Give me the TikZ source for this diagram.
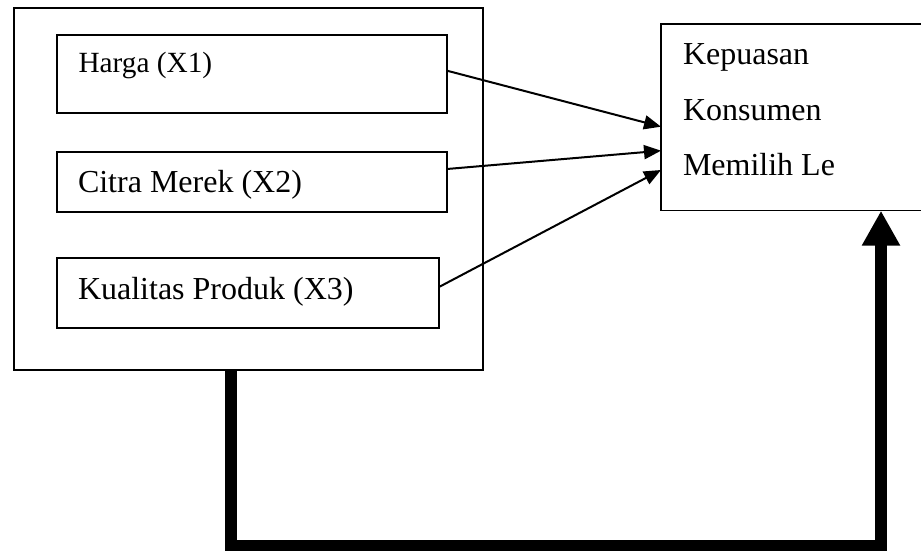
\documentclass[tikz,border=0pt]{standalone}
\usepackage{fontspec}
\setmainfont{Liberation Serif}
\usetikzlibrary{arrows.meta}

\begin{document}
\begin{tikzpicture}[
  x=1pt,
  y=-1pt,
  every node/.style={inner sep=0pt, outer sep=0pt},
  box/.style={draw, line width=1.3pt, anchor=north west},
  label/.style={font=\fontsize{32}{38}\selectfont, anchor=base west},
  small label/.style={font=\fontsize{29.3}{35}\selectfont, anchor=base west},
  link/.style={line width=2pt, -{Triangle[length=17pt, width=14pt]}},
  feedback/.style={line width=11.7pt, line join=miter,
    -{Triangle[length=35pt, width=36pt]}}
]
  \useasboundingbox (0,0) rectangle (921,551);
  \clip (0,0) rectangle (921,551);

  % ---- the group of the three factors ---------------------------------
  \node[box, minimum width=469pt, minimum height=362pt] (outer) at (14,8) {};
  \node[box, minimum width=390pt, minimum height=78pt] (harga) at (57,35) {};
  \node[box, minimum width=390pt, minimum height=60pt] (citra) at (57,152) {};
  \node[box, minimum width=382pt, minimum height=70pt] (kualitas) at (57,258) {};
  \node[small label] (hargatext) at (78.5,73) {Harga (X1)};
  \node[label] (citratext) at (78,192.3) {Citra Merek (X2)};
  \node[label] (kualitastext) at (78,299) {Kualitas Produk (X3)};

  % ---- the outcome, running past the right edge -----------------------
  \node[box, minimum width=300pt, minimum height=186.7pt] (kepuasan) at (661,24) {};
  \node[label] (kep1) at (683,65) {Kepuasan};
  \node[label] (kep2) at (683,120) {Konsumen};
  \node[label] (kep3) at (683,175) {Memilih Le};

  % ---- one arrow from each factor -------------------------------------
  \draw[link] ([yshift=3.3pt]harga.east) -- ([yshift=-9.35pt]kepuasan.west);
  \draw[link] ([yshift=13pt]citra.east) -- ([yshift=-33.35pt]kepuasan.west);
  \draw[link] ([yshift=6pt]kualitas.east) -- ([yshift=-52.65pt]kepuasan.west);

  % ---- the thick arrow from the group to the outcome ------------------
  \draw[feedback] ([xshift=-17.5pt]outer.south) -- ++(0,176)
    -| ([xshift=70pt]kepuasan.south);
\end{tikzpicture}
\end{document}
